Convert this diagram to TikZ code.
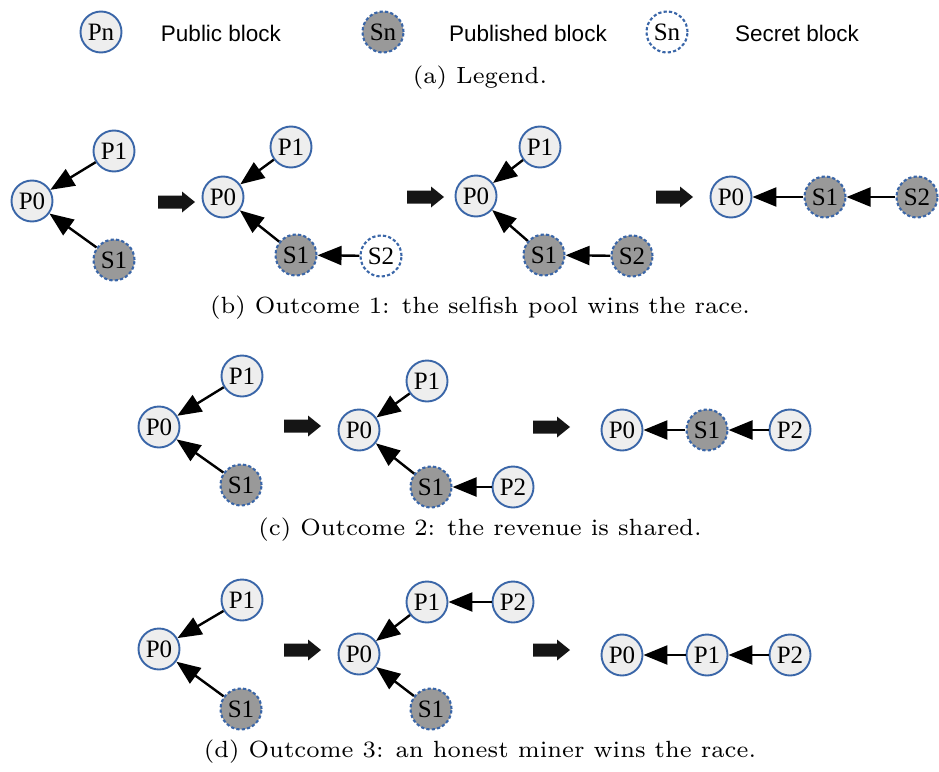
\documentclass[tikz,border=0pt]{standalone}
\usepackage{fontspec}
\newfontfamily\blockfont{Liberation Serif}
\newfontfamily\keyfont{Liberation Sans}
\usetikzlibrary{arrows.meta}

\definecolor{rim}{HTML}{3A66A8}
\definecolor{pubfill}{HTML}{EEEEEE}
\definecolor{shown}{HTML}{999999}
\definecolor{bigarrow}{HTML}{151515}

\tikzset{
  blk/.style={circle, minimum size=41pt, inner sep=0pt, line width=1.9pt,
    draw=rim, font=\blockfont\fontsize{25}{26}\selectfont},
  public/.style={blk, fill=pubfill},
  published/.style={blk, fill=shown, line width=2.1pt, dash pattern=on 3.2pt off 2.2pt},
  secret/.style={blk, fill=white, line width=2.1pt, dash pattern=on 3.2pt off 2.2pt},
  link/.style={line width=2.4pt, -{Triangle[length=24pt,width=19pt]}},
  keytext/.style={font=\keyfont\fontsize{22.5}{25}\selectfont},
  caption/.style={inner sep=0pt}
}
\newcommand{\captxt}[1]{\scalebox{3.35}{\fontsize{7}{8}\selectfont #1}}
% thick block arrow between stages, tip at x = #1 + 37
\newcommand{\stagearrow}[2]{%
  \fill[bigarrow] (#1,#2-6.5) -- (#1+24,#2-6.5) -- (#1+24,#2-10.5) -- (#1+37,#2)
    -- (#1+24,#2+10.5) -- (#1+24,#2+6.5) -- (#1,#2+6.5) -- cycle;}

\begin{document}
\begin{tikzpicture}[x=1pt,y=-1pt]
\useasboundingbox (0,0) rectangle (939,771);

% ---- legend ----
\node[public] (kp) at (101,32) {Pn};
\node[keytext] (kpt) at (221,33) {Public block};
\node[published] (ks) at (383,32) {Sn};
\node[keytext] (kst) at (528,33) {Published block};
\node[secret] (kx) at (667,32) {Sn};
\node[keytext] (kxt) at (797,33) {Secret block};
\node[caption] (ca) at (480,78) {\captxt{(a) Legend.}};

% ---- outcome 1 ----
\node[public] (b1p0) at (32,201) {P0};
\node[public] (b1p1) at (114,151) {P1};
\node[published] (b1s1) at (114,260) {S1};
\draw[link] (b1p1) -- (b1p0);
\draw[link] (b1s1) -- (b1p0);
\stagearrow{158}{202}

\node[public] (b2p0) at (223,197) {P0};
\node[public] (b2p1) at (291,147) {P1};
\node[published] (b2s1) at (296,255) {S1};
\node[secret] (b2s2) at (381,256) {S2};
\draw[link] (b2p1) -- (b2p0);
\draw[link] (b2s1) -- (b2p0);
\draw[link] (b2s2) -- (b2s1);
\stagearrow{407}{197}

\node[public] (b3p0) at (476,196) {P0};
\node[public] (b3p1) at (540,147) {P1};
\node[published] (b3s1) at (544,255) {S1};
\node[published] (b3s2) at (632,256) {S2};
\draw[link] (b3p1) -- (b3p0);
\draw[link] (b3s1) -- (b3p0);
\draw[link] (b3s2) -- (b3s1);
\stagearrow{656}{197}

\node[public] (b4p0) at (731,197) {P0};
\node[published] (b4s1) at (825,197) {S1};
\node[published] (b4s2) at (917,197) {S2};
\draw[link] (b4s1) -- (b4p0);
\draw[link] (b4s2) -- (b4s1);
\node[caption] (cb) at (480,308) {\captxt{(b) Outcome 1: the selfish pool wins the race.}};

% ---- outcome 2 ----
\node[public] (c1p0) at (159,427) {P0};
\node[public] (c1p1) at (242,376) {P1};
\node[published] (c1s1) at (241,485) {S1};
\draw[link] (c1p1) -- (c1p0);
\draw[link] (c1s1) -- (c1p0);
\stagearrow{284}{426}

\node[public] (c2p0) at (359,430) {P0};
\node[public] (c2p1) at (427,381) {P1};
\node[published] (c2s1) at (431,487) {S1};
\node[public] (c2p2) at (513,487) {P2};
\draw[link] (c2p1) -- (c2p0);
\draw[link] (c2s1) -- (c2p0);
\draw[link] (c2p2) -- (c2s1);
\stagearrow{533}{427}

\node[public] (c3p0) at (622,430) {P0};
\node[published] (c3s1) at (707,430) {S1};
\node[public] (c3p2) at (790,430) {P2};
\draw[link] (c3s1) -- (c3p0);
\draw[link] (c3p2) -- (c3s1);
\node[caption] (cc) at (480,530) {\captxt{(c) Outcome 2: the revenue is shared.}};

% ---- outcome 3 ----
\node[public] (d1p0) at (159,649) {P0};
\node[public] (d1p1) at (242,600) {P1};
\node[published] (d1s1) at (241,709) {S1};
\draw[link] (d1p1) -- (d1p0);
\draw[link] (d1s1) -- (d1p0);
\stagearrow{284}{650}

\node[public] (d2p0) at (359,654) {P0};
\node[public] (d2p1) at (427,602) {P1};
\node[public] (d2p2) at (513,602) {P2};
\node[published] (d2s1) at (431,709) {S1};
\draw[link] (d2p1) -- (d2p0);
\draw[link] (d2s1) -- (d2p0);
\draw[link] (d2p2) -- (d2p1);
\stagearrow{533}{650}

\node[public] (d3p0) at (622,655) {P0};
\node[public] (d3p1) at (707,655) {P1};
\node[public] (d3p2) at (790,655) {P2};
\draw[link] (d3p1) -- (d3p0);
\draw[link] (d3p2) -- (d3p1);
\node[caption] (cd) at (480,752) {\captxt{(d) Outcome 3: an honest miner wins the race.}};
\end{tikzpicture}
\end{document}
